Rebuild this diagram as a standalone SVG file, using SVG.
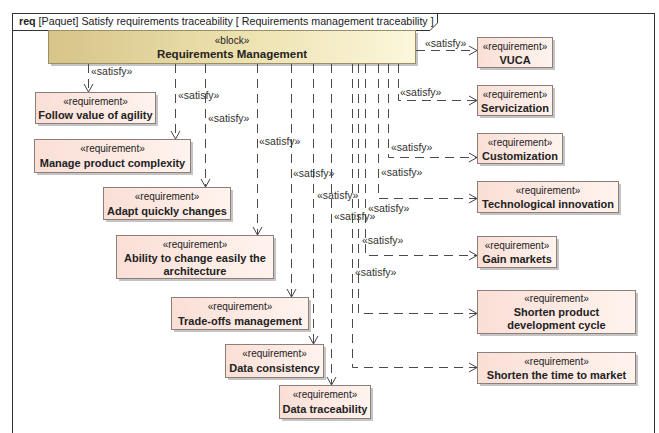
<svg xmlns="http://www.w3.org/2000/svg" width="659" height="433" viewBox="0 0 659 433">
<defs>
<linearGradient id="gBlock" x1="0" y1="0" x2="1" y2="0">
<stop offset="0" stop-color="#d6c488"/>
<stop offset="0.5" stop-color="#ece0ad"/>
<stop offset="1" stop-color="#fcf7dc"/>
</linearGradient>
<linearGradient id="gReq" x1="0" y1="0" x2="1" y2="0">
<stop offset="0" stop-color="#fadfd6"/>
<stop offset="1" stop-color="#fff3ee"/>
</linearGradient>
<marker id="arr" markerUnits="userSpaceOnUse" markerWidth="12" markerHeight="12" refX="9" refY="5" orient="auto" overflow="visible">
<path d="M1,0.5 L9,5 L1,9.5" fill="none" stroke="#444" stroke-width="1" stroke-dasharray="none"/>
</marker>
</defs>
<style>
text{font-family:"Liberation Sans",Arial,sans-serif;fill:#222}
.st{font-size:10px;text-anchor:middle}
.nm{font-size:11px;font-weight:bold;text-anchor:middle}
.lb{font-size:10.5px;fill:#333}
.req{fill:url(#gReq);stroke:#8c7f79;stroke-width:1}
.sh{fill:#c4c4c4}
.con path{fill:none;stroke:#4a4a4a;stroke-width:1;stroke-dasharray:9,6;marker-end:url(#arr)}
</style>
<rect x="0" y="0" width="659" height="433" fill="#ffffff"/>
<g id="frame">
<rect x="12.5" y="13.5" width="642" height="440" fill="none" stroke="#333" stroke-width="1"/>
<path d="M12.5,30.5 H430 L437.5,23 V13.5" fill="none" stroke="#333" stroke-width="1"/>
<text x="19" y="25" style="font-size:10.7px"><tspan font-weight="bold">req</tspan> [Paquet] Satisfy requirements traceability [ Requirements management traceability ]</text>
</g>
<g id="block">
<rect x="51" y="33" width="367" height="33" class="sh"/>
<rect x="48.5" y="30.5" width="367" height="33" fill="url(#gBlock)" stroke="#9c8f66" stroke-width="1"/>
<text x="232" y="44" class="st">«block»</text>
<text x="232" y="57.5" style="font-size:11.5px;font-weight:bold;text-anchor:middle">Requirements Management</text>
</g>
<g id="vuca"><rect x="480" y="40" width="75" height="30" class="sh"/><rect x="477.5" y="37.5" width="75" height="30" class="req"/><text x="515" y="49.5" class="st">«requirement»</text><text x="515" y="63.5" class="nm">VUCA</text></g>
<g id="servicization"><rect x="480" y="88" width="75" height="30" class="sh"/><rect x="477.5" y="85.5" width="75" height="30" class="req"/><text x="515" y="97.5" class="st">«requirement»</text><text x="515" y="111.5" class="nm">Servicization</text></g>
<g id="customization"><rect x="480" y="136" width="85" height="30" class="sh"/><rect x="477.5" y="133.5" width="85" height="30" class="req"/><text x="520" y="145.5" class="st">«requirement»</text><text x="520" y="159.5" class="nm">Customization</text></g>
<g id="technological"><rect x="480" y="184" width="141" height="31" class="sh"/><rect x="477.5" y="181.5" width="141" height="31" class="req"/><text x="548" y="193.5" class="st">«requirement»</text><text x="548" y="208" class="nm">Technological innovation</text></g>
<g id="gainmarkets"><rect x="480" y="239" width="79" height="31" class="sh"/><rect x="477.5" y="236.5" width="79" height="31" class="req"/><text x="517" y="248.5" class="st">«requirement»</text><text x="517" y="263" class="nm">Gain markets</text></g>
<g id="shortencycle"><rect x="480" y="293" width="158" height="43" class="sh"/><rect x="477.5" y="290.5" width="158" height="43" class="req"/><text x="556.5" y="301.5" class="st">«requirement»</text><text x="556.5" y="316" class="nm">Shorten product</text><text x="556.5" y="328.5" class="nm">development cycle</text></g>
<g id="shortentime"><rect x="480" y="355" width="158" height="31" class="sh"/><rect x="477.5" y="352.5" width="158" height="31" class="req"/><text x="556.5" y="364.5" class="st">«requirement»</text><text x="556.5" y="379" class="nm">Shorten the time to market</text></g>
<g id="follow"><rect x="38" y="95" width="120" height="31" class="sh"/><rect x="35.5" y="92.5" width="120" height="31" class="req"/><text x="95.5" y="104.5" class="st">«requirement»</text><text x="95.5" y="119" class="nm">Follow value of agility</text></g>
<g id="manage"><rect x="37" y="142" width="156" height="33" class="sh"/><rect x="34.5" y="139.5" width="156" height="33" class="req"/><text x="112.5" y="152" class="st">«requirement»</text><text x="112.5" y="166.5" class="nm">Manage product complexity</text></g>
<g id="adapt"><rect x="106" y="190" width="127" height="32" class="sh"/><rect x="103.5" y="187.5" width="127" height="32" class="req"/><text x="167" y="200" class="st">«requirement»</text><text x="167" y="214.5" class="nm">Adapt quickly changes</text></g>
<g id="ability"><rect x="119" y="238" width="157" height="43" class="sh"/><rect x="116.5" y="235.5" width="157" height="43" class="req"/><text x="195" y="248" class="st">«requirement»</text><text x="195" y="262" class="nm">Ability to change easily the</text><text x="195" y="274.5" class="nm">architecture</text></g>
<g id="tradeoffs"><rect x="174" y="300" width="137" height="32" class="sh"/><rect x="171.5" y="297.5" width="137" height="32" class="req"/><text x="240" y="310" class="st">«requirement»</text><text x="240" y="324.5" class="nm">Trade-offs management</text></g>
<g id="consistency"><rect x="228" y="347" width="98" height="33" class="sh"/><rect x="225.5" y="344.5" width="98" height="33" class="req"/><text x="274.5" y="357" class="st">«requirement»</text><text x="274.5" y="371.5" class="nm">Data consistency</text></g>
<g id="traceability"><rect x="282" y="388" width="91" height="33" class="sh"/><rect x="279.5" y="385.5" width="91" height="33" class="req"/><text x="325" y="398" class="st">«requirement»</text><text x="325" y="412.5" class="nm">Data traceability</text></g>
<g id="connectors" class="con">
<path d="M88.5,64 V92"/>
<path d="M175.5,64 V139"/>
<path d="M205.5,64 V187"/>
<path d="M257.5,64 V235"/>
<path d="M291.5,64 V297"/>
<path d="M313.5,64 V344"/>
<path d="M331.5,64 V385"/>
<path d="M416,50.5 H477"/>
<path d="M398.5,64 V100.5 H477"/>
<path d="M388.5,64 V157.5 H477"/>
<path d="M378.5,64 V198.5 H477"/>
<path d="M365.5,64 V255.5 H477"/>
<path d="M358.5,64 V313.5 H477"/>
<path d="M352.5,64 V367.5 H477"/>
</g>
<g id="labels">
<text x="91" y="75" class="lb">«satisfy»</text>
<text x="178" y="99" class="lb">«satisfy»</text>
<text x="208" y="122" class="lb">«satisfy»</text>
<text x="259" y="145" class="lb">«satisfy»</text>
<text x="293" y="177" class="lb">«satisfy»</text>
<text x="317" y="199" class="lb">«satisfy»</text>
<text x="334" y="220" class="lb">«satisfy»</text>
<text x="425" y="47" class="lb">«satisfy»</text>
<text x="400" y="96" class="lb">«satisfy»</text>
<text x="391" y="151" class="lb">«satisfy»</text>
<text x="381" y="176" class="lb">«satisfy»</text>
<text x="368" y="212" class="lb">«satisfy»</text>
<text x="362" y="244" class="lb">«satisfy»</text>
<text x="355" y="276" class="lb">«satisfy»</text>
</g>
</svg>
